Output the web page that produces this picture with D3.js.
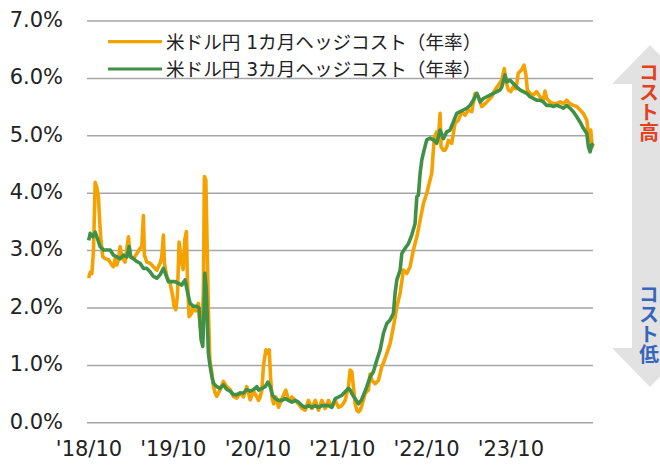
<!DOCTYPE html>
<html>
<head>
<meta charset="utf-8">
<script src="https://cdn.jsdelivr.net/npm/d3@7"></script>
<style>
  html, body { margin: 0; padding: 0; background: #fff; }
  svg { display: block; }
</style>
</head>
<body>
<svg id="chart" width="660" height="468"></svg>
<script>
// series names / colours
const seriesNames = ['米ドル円 1カ月ヘッジコスト（年率）', '米ドル円 3カ月ヘッジコスト（年率）'];
const seriesColors = ['#f5a200', '#409146'];

// x tick labels (Oct of each year)
const tickYears = [2018, 2019, 2020, 2021, 2022, 2023];
const yTicks = [0, 1, 2, 3, 4, 5, 6, 7];

// 1M hedge cost: [decimal year, %]
const hedge1m = [
  [2018.750, 2.52], [2018.768, 2.62], [2018.788, 2.60], [2018.807, 3.00], [2018.827, 4.19],
  [2018.847, 4.10], [2018.866, 3.93], [2018.878, 3.58], [2018.895, 3.18], [2018.918, 2.89],
  [2018.945, 2.86], [2018.985, 2.84], [2019.025, 2.75], [2019.044, 2.72], [2019.064, 2.86],
  [2019.084, 2.75], [2019.103, 2.84], [2019.123, 3.07], [2019.143, 2.89], [2019.182, 2.80],
  [2019.222, 3.24], [2019.242, 2.89], [2019.281, 2.86], [2019.321, 2.95], [2019.360, 3.04],
  [2019.380, 3.07], [2019.399, 3.61], [2019.411, 2.92], [2019.440, 2.80], [2019.479, 2.78],
  [2019.518, 2.72], [2019.558, 2.66], [2019.597, 2.78], [2019.617, 2.89], [2019.636, 3.27],
  [2019.648, 2.78], [2019.677, 2.55], [2019.716, 2.43], [2019.748, 2.20], [2019.763, 2.03],
  [2019.783, 1.97], [2019.802, 2.20], [2019.822, 3.15], [2019.846, 2.84], [2019.870, 2.67],
  [2019.890, 3.19], [2019.909, 3.33], [2019.921, 2.49], [2019.941, 1.85], [2019.973, 1.91],
  [2019.992, 2.03], [2020.020, 1.95], [2020.051, 2.08], [2020.071, 1.68], [2020.091, 1.56],
  [2020.110, 2.30], [2020.122, 4.29], [2020.139, 4.23], [2020.154, 3.13], [2020.169, 1.97],
  [2020.186, 1.10], [2020.210, 0.87], [2020.229, 0.63], [2020.249, 0.52], [2020.269, 0.46],
  [2020.308, 0.58], [2020.347, 0.72], [2020.387, 0.63], [2020.427, 0.58], [2020.466, 0.46],
  [2020.506, 0.43], [2020.545, 0.52], [2020.584, 0.45], [2020.624, 0.63], [2020.664, 0.40],
  [2020.703, 0.55], [2020.743, 0.45], [2020.762, 0.39], [2020.782, 0.45], [2020.802, 0.57],
  [2020.821, 1.00], [2020.849, 1.27], [2020.873, 1.21], [2020.889, 1.27], [2020.904, 0.80],
  [2020.921, 0.45], [2020.940, 0.33], [2020.968, 0.45], [2020.999, 0.27], [2021.039, 0.42],
  [2021.086, 0.57], [2021.117, 0.39], [2021.157, 0.45], [2021.197, 0.39], [2021.236, 0.33],
  [2021.276, 0.25], [2021.315, 0.22], [2021.354, 0.39], [2021.394, 0.25], [2021.434, 0.39],
  [2021.473, 0.22], [2021.513, 0.39], [2021.552, 0.25], [2021.591, 0.39], [2021.631, 0.27],
  [2021.671, 0.39], [2021.710, 0.27], [2021.750, 0.30], [2021.789, 0.39], [2021.828, 0.63],
  [2021.848, 0.92], [2021.868, 0.89], [2021.887, 0.63], [2021.907, 0.33], [2021.928, 0.22],
  [2021.947, 0.19], [2021.967, 0.22], [2021.987, 0.30], [2022.026, 0.51], [2022.065, 0.57],
  [2022.085, 0.85], [2022.105, 0.74], [2022.145, 0.68], [2022.184, 0.74], [2022.224, 0.98],
  [2022.243, 1.04], [2022.283, 1.21], [2022.322, 1.38], [2022.361, 1.67], [2022.402, 2.02],
  [2022.441, 2.26], [2022.480, 2.66], [2022.520, 2.60], [2022.559, 2.72], [2022.598, 3.01],
  [2022.639, 3.24], [2022.678, 3.53], [2022.717, 3.82], [2022.757, 4.00], [2022.796, 4.23],
  [2022.816, 4.35], [2022.835, 4.75], [2022.847, 4.98], [2022.875, 5.07], [2022.894, 4.95],
  [2022.915, 5.39], [2022.926, 4.81], [2022.954, 4.75], [2022.974, 4.75], [2022.994, 4.81],
  [2023.013, 4.92], [2023.053, 4.87], [2023.092, 5.22], [2023.131, 5.27], [2023.172, 5.42],
  [2023.211, 5.36], [2023.250, 5.45], [2023.290, 5.42], [2023.329, 5.74], [2023.368, 5.68],
  [2023.409, 5.51], [2023.448, 5.56], [2023.487, 5.62], [2023.527, 5.68], [2023.566, 5.80],
  [2023.605, 5.88], [2023.646, 5.97], [2023.676, 6.17], [2023.697, 5.94], [2023.724, 5.80],
  [2023.752, 5.77], [2023.783, 5.85], [2023.815, 5.82], [2023.842, 6.09], [2023.882, 6.15],
  [2023.910, 6.23], [2023.933, 6.06], [2023.949, 5.80], [2023.981, 5.74], [2024.020, 5.71],
  [2024.060, 5.77], [2024.099, 5.68], [2024.139, 5.62], [2024.159, 5.78], [2024.179, 5.65],
  [2024.218, 5.59], [2024.257, 5.56], [2024.297, 5.56], [2024.337, 5.59], [2024.376, 5.56],
  [2024.416, 5.62], [2024.455, 5.56], [2024.494, 5.53], [2024.534, 5.51], [2024.573, 5.45],
  [2024.612, 5.39], [2024.653, 5.27], [2024.680, 4.92], [2024.700, 5.10], [2024.715, 4.81],
  [2024.731, 4.84]
];

// 3M hedge cost: [decimal year, %]
const hedge3m = [
  [2018.750, 3.18], [2018.768, 3.30], [2018.800, 3.24], [2018.827, 3.32], [2018.854, 3.21],
  [2018.886, 3.07], [2018.925, 3.01], [2018.966, 3.01], [2019.005, 3.01], [2019.044, 2.92],
  [2019.084, 2.89], [2019.123, 2.86], [2019.162, 2.92], [2019.203, 2.89], [2019.230, 3.07],
  [2019.250, 2.89], [2019.281, 2.86], [2019.321, 2.81], [2019.360, 2.78], [2019.399, 2.69],
  [2019.440, 2.69], [2019.479, 2.63], [2019.518, 2.55], [2019.558, 2.52], [2019.597, 2.58],
  [2019.636, 2.69], [2019.665, 2.58], [2019.695, 2.46], [2019.736, 2.46], [2019.775, 2.46],
  [2019.814, 2.43], [2019.854, 2.40], [2019.893, 2.49], [2019.925, 2.26], [2019.953, 2.08],
  [2019.992, 2.03], [2020.032, 2.03], [2020.059, 2.00], [2020.083, 1.45], [2020.103, 1.33],
  [2020.118, 1.97], [2020.127, 2.61], [2020.142, 2.37], [2020.154, 1.91], [2020.169, 1.21],
  [2020.190, 0.98], [2020.210, 0.81], [2020.229, 0.69], [2020.269, 0.63], [2020.308, 0.60],
  [2020.347, 0.66], [2020.387, 0.58], [2020.427, 0.55], [2020.466, 0.49], [2020.506, 0.49],
  [2020.545, 0.52], [2020.584, 0.52], [2020.624, 0.58], [2020.664, 0.55], [2020.703, 0.58],
  [2020.743, 0.63], [2020.762, 0.57], [2020.802, 0.60], [2020.841, 0.63], [2020.873, 0.71],
  [2020.901, 0.63], [2020.928, 0.48], [2020.960, 0.42], [2020.999, 0.39], [2021.039, 0.39],
  [2021.078, 0.42], [2021.117, 0.39], [2021.157, 0.36], [2021.197, 0.39], [2021.236, 0.36],
  [2021.276, 0.30], [2021.315, 0.27], [2021.354, 0.30], [2021.394, 0.27], [2021.434, 0.30],
  [2021.473, 0.27], [2021.513, 0.30], [2021.552, 0.30], [2021.591, 0.30], [2021.631, 0.27],
  [2021.671, 0.42], [2021.710, 0.45], [2021.750, 0.48], [2021.789, 0.54], [2021.828, 0.60],
  [2021.848, 0.57], [2021.868, 0.51], [2021.907, 0.42], [2021.947, 0.33], [2021.979, 0.39],
  [2022.006, 0.48], [2022.046, 0.63], [2022.085, 0.80], [2022.124, 0.89], [2022.164, 1.09],
  [2022.204, 1.27], [2022.243, 1.56], [2022.283, 1.73], [2022.322, 1.79], [2022.361, 1.91],
  [2022.381, 2.26], [2022.402, 2.49], [2022.441, 2.66], [2022.461, 2.95], [2022.500, 3.04],
  [2022.539, 3.12], [2022.579, 3.27], [2022.618, 3.47], [2022.639, 3.94], [2022.658, 3.97],
  [2022.678, 4.35], [2022.698, 4.58], [2022.725, 4.75], [2022.757, 4.93], [2022.796, 4.96],
  [2022.835, 4.93], [2022.875, 4.87], [2022.915, 5.10], [2022.954, 4.95], [2022.994, 5.07],
  [2023.033, 5.10], [2023.072, 5.24], [2023.112, 5.39], [2023.152, 5.42], [2023.191, 5.45],
  [2023.231, 5.48], [2023.270, 5.53], [2023.309, 5.62], [2023.351, 5.74], [2023.368, 5.68],
  [2023.389, 5.59], [2023.428, 5.65], [2023.468, 5.68], [2023.507, 5.71], [2023.546, 5.74],
  [2023.588, 5.77], [2023.626, 5.80], [2023.646, 5.85], [2023.685, 6.06], [2023.705, 5.94],
  [2023.744, 5.97], [2023.783, 5.91], [2023.823, 5.85], [2023.862, 5.80], [2023.901, 5.77],
  [2023.942, 5.74], [2023.981, 5.68], [2024.020, 5.65], [2024.060, 5.62], [2024.099, 5.62],
  [2024.139, 5.59], [2024.179, 5.53], [2024.218, 5.53], [2024.257, 5.51], [2024.297, 5.53],
  [2024.337, 5.51], [2024.376, 5.48], [2024.416, 5.53], [2024.455, 5.48], [2024.494, 5.42],
  [2024.534, 5.33], [2024.573, 5.24], [2024.612, 5.13], [2024.653, 5.04], [2024.672, 4.81],
  [2024.692, 4.72], [2024.712, 4.84], [2024.731, 4.87]
];

// decimal year -> Date
const toDate = (t) => {
    const y = Math.floor(t);
    const a = new Date(y, 0, 1), b = new Date(y + 1, 0, 1);
    return new Date(+a + (t - y) * (b - a));
};

const svg = d3.select('#chart');
const font = "'DejaVu Sans', Verdana, sans-serif";
const jpFont = "'Noto Sans CJK JP', 'DejaVu Sans', sans-serif";
const legendFont = "'DejaVu Sans', 'Noto Sans CJK JP', sans-serif";

const plot = {left: 87, right: 593, top: 21, bottom: 422.8};

const x = d3.scaleTime()
    .domain([new Date(2018, 9, 1), new Date(2024, 9, 1)])
    .range([88.5, 594.9]);
const y = d3.scaleLinear()
    .domain([0, 7])
    .range([plot.bottom, plot.top]);

// side arrow (cost high / low)
const arrow = [
    [650, 45], [612, 84], [632, 84], [632, 348], [612, 348], [650, 387],
    [688, 348], [668, 348], [668, 84], [688, 84]
];
svg.append('polygon')
    .attr('points', arrow.map(p => p.join(',')).join(' '))
    .attr('fill', '#e2e2e2');

// vertical labels, one text each
const sideLabels = [
    {text: 'コスト高', color: '#e2401f', y0: 62},
    {text: 'コスト低', color: '#3565bd', y0: 284}
];
sideLabels.forEach(s => {
    svg.append('text')
        .attr('x', 649)
        .attr('y', s.y0)
        .attr('font-family', jpFont)
        .attr('font-size', 20)
        .attr('font-weight', 'bold')
        .attr('fill', s.color)
        .style('writing-mode', 'vertical-rl')
        .style('text-orientation', 'upright')
        .text(s.text);
});

// gridlines
svg.append('g')
    .selectAll('line')
    .data(yTicks)
    .join('line')
    .attr('x1', plot.left)
    .attr('x2', plot.right)
    .attr('y1', d => y(d))
    .attr('y2', d => y(d))
    .attr('stroke', '#a6a6a6')
    .attr('stroke-width', 1.5);

// y axis
const yAxis = svg.append('g')
    .attr('transform', `translate(${plot.left},0)`)
    .call(d3.axisLeft(y).tickValues(yTicks).tickSize(0).tickPadding(24)
        .tickFormat(d => d3.format('.1f')(d) + '%'));
yAxis.select('.domain').remove();
yAxis.selectAll('text')
    .attr('font-family', font)
    .attr('font-size', 21)
    .attr('fill', '#222')
    .attr('dy', '0.25em');

// x axis
const xAxis = svg.append('g')
    .attr('transform', `translate(0,${plot.bottom})`)
    .call(d3.axisBottom(x).tickValues(tickYears.map(yr => new Date(yr, 9, 1)))
        .tickSize(0).tickPadding(18)
        .tickFormat(d3.timeFormat("'%y/%m")));
xAxis.select('.domain').remove();
xAxis.selectAll('text')
    .attr('font-family', font)
    .attr('font-size', 21)
    .attr('fill', '#222');

// lines
const line = d3.line()
    .x(d => x(toDate(d[0])))
    .y(d => y(d[1]));

[hedge1m, hedge3m].forEach((data, i) => {
    svg.append('path')
        .datum(data)
        .attr('d', line)
        .attr('fill', 'none')
        .attr('stroke', seriesColors[i])
        .attr('stroke-width', 3.6)
        .attr('stroke-linejoin', 'round');
});

// legend
const legend = svg.append('g');
seriesNames.forEach((name, i) => {
    const row = legend.append('g')
        .attr('transform', `translate(108,${41.7 + i * 27.3})`);
    row.append('line')
        .attr('x1', 0).attr('x2', 54)
        .attr('stroke', seriesColors[i])
        .attr('stroke-width', 3.2);
    row.append('text')
        .attr('x', 58)
        .attr('y', 7)
        .attr('font-family', legendFont)
        .attr('font-size', 18.6)
        .attr('fill', '#222')
        .text(name);
});
</script>
</body>
</html>
